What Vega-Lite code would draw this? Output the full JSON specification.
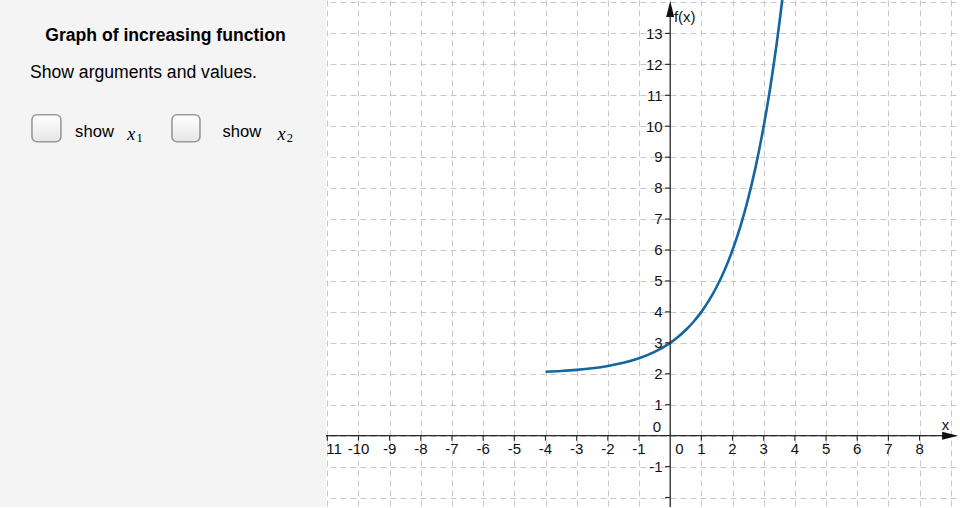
{
  "$schema": "https://vega.github.io/schema/vega-lite/v6.json",
  "width": 960,
  "height": 508,
  "padding": 0,
  "autosize": {"type": "fit", "contains": "padding"},
  "background": "white",
  "view": {"stroke": null},
  "config": {"font": "Liberation Sans"},
  "datasets": {
    "curve": [
      {"x": -4, "y": 2.0625}, {"x": -3.5, "y": 2.0884}, {"x": -3, "y": 2.125}, {"x": -2.5, "y": 2.1768},
      {"x": -2, "y": 2.25}, {"x": -1.5, "y": 2.3536}, {"x": -1, "y": 2.5}, {"x": -0.5, "y": 2.7071},
      {"x": 0, "y": 3}, {"x": 0.25, "y": 3.1892}, {"x": 0.5, "y": 3.4142}, {"x": 0.75, "y": 3.6818},
      {"x": 1, "y": 4}, {"x": 1.25, "y": 4.3784}, {"x": 1.5, "y": 4.8284}, {"x": 1.75, "y": 5.3636},
      {"x": 2, "y": 6}, {"x": 2.25, "y": 6.7568}, {"x": 2.5, "y": 7.6569}, {"x": 2.75, "y": 8.7272},
      {"x": 3, "y": 10}, {"x": 3.1, "y": 10.5742}, {"x": 3.2, "y": 11.1896}, {"x": 3.3, "y": 11.8491},
      {"x": 3.4, "y": 12.5561}, {"x": 3.5, "y": 13.3137}, {"x": 3.6, "y": 14.1257}
    ],
    "xLabels": [
      {"x": -11, "y": 0, "label": "-11"}, {"x": -10, "y": 0, "label": "-10"}, {"x": -9, "y": 0, "label": "-9"},
      {"x": -8, "y": 0, "label": "-8"}, {"x": -7, "y": 0, "label": "-7"}, {"x": -6, "y": 0, "label": "-6"},
      {"x": -5, "y": 0, "label": "-5"}, {"x": -4, "y": 0, "label": "-4"}, {"x": -3, "y": 0, "label": "-3"},
      {"x": -2, "y": 0, "label": "-2"}, {"x": -1, "y": 0, "label": "-1"}, {"x": 1, "y": 0, "label": "1"},
      {"x": 2, "y": 0, "label": "2"}, {"x": 3, "y": 0, "label": "3"}, {"x": 4, "y": 0, "label": "4"},
      {"x": 5, "y": 0, "label": "5"}, {"x": 6, "y": 0, "label": "6"}, {"x": 7, "y": 0, "label": "7"},
      {"x": 8, "y": 0, "label": "8"}
    ],
    "yLabels": [
      {"x": 0, "y": -1, "label": "-1"}, {"x": 0, "y": 1, "label": "1"}, {"x": 0, "y": 2, "label": "2"},
      {"x": 0, "y": 3, "label": "3"}, {"x": 0, "y": 4, "label": "4"}, {"x": 0, "y": 5, "label": "5"},
      {"x": 0, "y": 6, "label": "6"}, {"x": 0, "y": 7, "label": "7"}, {"x": 0, "y": 8, "label": "8"},
      {"x": 0, "y": 9, "label": "9"}, {"x": 0, "y": 10, "label": "10"}, {"x": 0, "y": 11, "label": "11"},
      {"x": 0, "y": 12, "label": "12"}, {"x": 0, "y": 13, "label": "13"}
    ],
    "yTicks": [
      {"x": 0, "y": -2}, {"x": 0, "y": -1}, {"x": 0, "y": 1}, {"x": 0, "y": 2}, {"x": 0, "y": 3},
      {"x": 0, "y": 4}, {"x": 0, "y": 5}, {"x": 0, "y": 6}, {"x": 0, "y": 7}, {"x": 0, "y": 8},
      {"x": 0, "y": 9}, {"x": 0, "y": 10}, {"x": 0, "y": 11}, {"x": 0, "y": 12}, {"x": 0, "y": 13}
    ],
    "axisLines": [
      {"x": -11.043, "x2": 8.9, "y": 0, "y2": 0},
      {"x": 0, "x2": 0, "y": -2.306, "y2": 13.7}
    ],
    "origin": [{"x": 0, "y": 0}],
    "panel": [{"x": -21.5, "x2": -11.043, "y": -2.306, "y2": 14.08}],
    "checkboxes": [
      {"x": -20.475, "x2": -19.545, "y": 9.5, "y2": 10.371},
      {"x": -15.983, "x2": -15.085, "y": 9.5, "y2": 10.371}
    ]
  },
  "encoding": {
    "x": {
      "field": "x", "type": "quantitative",
      "scale": {"domain": [-21.5, 9.297], "nice": false, "zero": false},
      "axis": {
        "values": [-11, -10, -9, -8, -7, -6, -5, -4, -3, -2, -1, 0, 1, 2, 3, 4, 5, 6, 7, 8, 9],
        "grid": true, "gridDash": [6, 4], "gridColor": "#c8c8c8", "gridWidth": 1,
        "domain": false, "ticks": false, "labels": false, "title": null
      }
    },
    "y": {
      "field": "y", "type": "quantitative",
      "scale": {"domain": [-2.306, 14.08], "nice": false, "zero": false},
      "axis": {
        "values": [-2, -1, 0, 1, 2, 3, 4, 5, 6, 7, 8, 9, 10, 11, 12, 13, 14],
        "grid": true, "gridDash": [6, 4], "gridColor": "#c8c8c8", "gridWidth": 1,
        "domain": false, "ticks": false, "labels": false, "title": null
      }
    }
  },
  "layer": [
    {
      "data": {"name": "curve"},
      "mark": {"type": "line", "color": "#13669e", "strokeWidth": 2.6, "interpolate": "monotone", "clip": true},
      "encoding": {}
    },
    {
      "data": {"name": "axisLines"},
      "mark": {"type": "rule", "color": "#2a2a2a", "strokeWidth": 1.3},
      "encoding": {"x2": {"field": "x2"}, "y2": {"field": "y2"}}
    },
    {
      "data": {"name": "xLabels"},
      "mark": {"type": "tick", "orient": "vertical", "size": 5, "thickness": 1.2, "yOffset": 2.5, "color": "#2a2a2a", "opacity": 1},
      "encoding": {}
    },
    {
      "data": {"name": "yTicks"},
      "mark": {"type": "tick", "orient": "horizontal", "size": 5, "thickness": 1.2, "xOffset": -2.5, "color": "#2a2a2a", "opacity": 1},
      "encoding": {}
    },
    {
      "data": {"values": [{"x": 8.98, "y": 0}]},
      "mark": {"type": "point", "shape": "M1,0L-1,-0.5L-1,0.5Z", "size": 256, "filled": true, "color": "#111", "opacity": 1},
      "encoding": {}
    },
    {
      "data": {"values": [{"x": 0, "y": 13.79}]},
      "mark": {"type": "point", "shape": "M0,-1L-0.5,1L0.5,1Z", "size": 256, "filled": true, "color": "#111", "opacity": 1},
      "encoding": {}
    },
    {
      "data": {"name": "xLabels"},
      "transform": [{"filter": "datum.x > -11"}],
      "mark": {"type": "text", "fontSize": 15, "color": "#111", "align": "center", "baseline": "alphabetic", "dy": 18.5},
      "encoding": {"text": {"field": "label"}}
    },
    {
      "data": {"name": "xLabels"},
      "transform": [{"filter": "datum.x == -11"}],
      "mark": {"type": "text", "fontSize": 15, "color": "#111", "align": "left", "baseline": "alphabetic", "dx": -6, "dy": 18.5},
      "encoding": {"text": {"field": "label"}}
    },
    {
      "data": {"name": "yLabels"},
      "mark": {"type": "text", "fontSize": 15, "color": "#111", "align": "right", "baseline": "alphabetic", "dx": -7.5, "dy": 5.3},
      "encoding": {"text": {"field": "label"}}
    },
    {
      "data": {"name": "origin"},
      "mark": {"type": "text", "fontSize": 15, "color": "#111", "align": "right", "baseline": "alphabetic", "dx": -9, "dy": -3.5, "text": "0"},
      "encoding": {}
    },
    {
      "data": {"name": "origin"},
      "mark": {"type": "text", "fontSize": 15, "color": "#111", "align": "left", "baseline": "alphabetic", "dx": 5, "dy": 18.5, "text": "0"},
      "encoding": {}
    },
    {
      "data": {"values": [{"x": 0.12, "y": 13.37, "label": "f(x)"}]},
      "mark": {"type": "text", "fontSize": 15, "color": "#111", "align": "left", "baseline": "alphabetic"},
      "encoding": {"text": {"field": "label"}}
    },
    {
      "data": {"values": [{"x": 8.83, "y": 0.19, "label": "x"}]},
      "mark": {"type": "text", "fontSize": 15, "color": "#111", "align": "center", "baseline": "alphabetic"},
      "encoding": {"text": {"field": "label"}}
    },
    {
      "data": {"name": "panel"},
      "mark": {"type": "rect", "fill": "#f4f4f4", "clip": true},
      "encoding": {"x2": {"field": "x2"}, "y2": {"field": "y2"}}
    },
    {
      "data": {"name": "checkboxes"},
      "mark": {
        "type": "rect", "cornerRadius": 5, "stroke": "#999999", "strokeWidth": 1.6,
        "fill": {"gradient": "linear", "x1": 0, "y1": 0, "x2": 0, "y2": 1, "stops": [{"offset": 0, "color": "#ffffff"}, {"offset": 1, "color": "#e6e6e6"}]}
      },
      "encoding": {"x2": {"field": "x2"}, "y2": {"field": "y2"}}
    },
    {
      "data": {"values": [{"x": -16.192, "y": 12.758, "label": "Graph of increasing function"}]},
      "mark": {"type": "text", "fontSize": 17.6, "fontWeight": "bold", "color": "#000", "align": "center", "baseline": "alphabetic"},
      "encoding": {"text": {"field": "label"}}
    },
    {
      "data": {"values": [{"x": -20.539, "y": 11.565, "label": "Show arguments and values."}]},
      "mark": {"type": "text", "fontSize": 17.6, "color": "#000", "align": "left", "baseline": "alphabetic"},
      "encoding": {"text": {"field": "label"}}
    },
    {
      "data": {"values": [{"x": -19.09, "y": 9.661, "label": "show"}, {"x": -14.363, "y": 9.661, "label": "show"}]},
      "mark": {"type": "text", "fontSize": 16.6, "color": "#000", "align": "left", "baseline": "alphabetic"},
      "encoding": {"text": {"field": "label"}}
    },
    {
      "data": {"values": [{"x": -17.418, "y": 9.565, "label": "x"}, {"x": -12.599, "y": 9.565, "label": "x"}]},
      "mark": {"type": "text", "font": "Liberation Serif", "fontStyle": "italic", "fontSize": 18, "color": "#000", "align": "left", "baseline": "alphabetic"},
      "encoding": {"text": {"field": "label"}}
    },
    {
      "data": {"values": [{"x": -17.12, "y": 9.5, "label": "1"}, {"x": -12.3, "y": 9.5, "label": "2"}]},
      "mark": {"type": "text", "font": "Liberation Serif", "fontSize": 12.5, "color": "#000", "align": "left", "baseline": "alphabetic"},
      "encoding": {"text": {"field": "label"}}
    }
  ]
}
